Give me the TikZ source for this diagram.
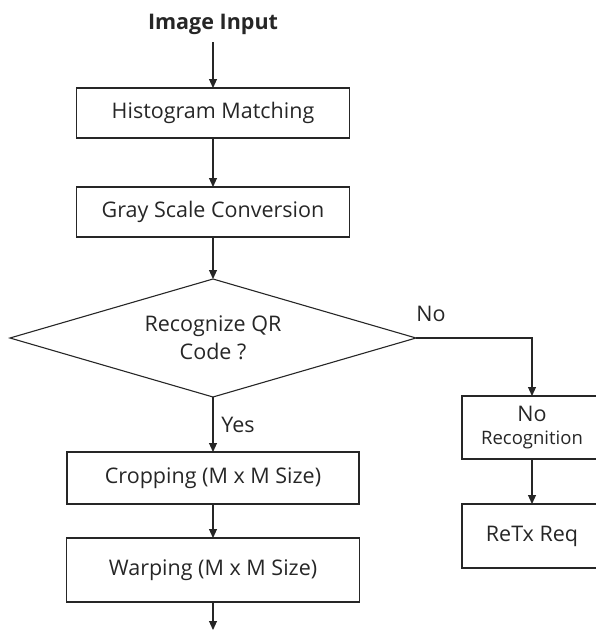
\documentclass[tikz,border=0pt]{standalone}
\usepackage{fontspec}
\setmainfont{Open Sans}
\usetikzlibrary{arrows.meta, positioning, shapes.geometric}
\definecolor{ink}{HTML}{262626}

\begin{document}
\begin{tikzpicture}[->,>={Triangle[length=9pt,width=8pt]},x=1pt,y=-1pt,line width=1.1pt,draw=ink,text=ink,
  every node/.style={font=\fontsize{21.5}{25}\selectfont, outer sep=0pt},
  block/.style={rectangle, draw=ink, inner sep=0pt, minimum height=50pt, minimum width=273pt},
  decision/.style={diamond, aspect=3.44, draw=ink, inner sep=0pt, minimum width=406pt, minimum height=118pt,
    align=center, font=\fontsize{21.5}{28}\selectfont},
  title/.style={font=\fontsize{21.5}{25}\selectfont\bfseries}]
  \useasboundingbox (0,0) rectangle (596,632);
  \node[block] (hist) at (213,113) {Histogram Matching};
  \node[title, above=50pt of hist] (input) {Image Input};
  \node[block, below=49pt of hist] (gray) {Gray Scale Conversion};
  \node[decision, below=42pt of gray] (dec) {Recognize QR\\Code ?};
  \node[block, minimum width=292pt, minimum height=52pt, below=55pt of dec] (crop) {Cropping (M x M Size)};
  \node[block, minimum width=293pt, minimum height=64pt, below=34pt of crop] (warp) {Warping (M x M Size)};
  \coordinate[below=28pt of warp] (out);
  \node[block, minimum width=140pt, minimum height=63pt, align=center] (norec) at (532,427.5)
    {No\\[-2pt]{\fontsize{18.5}{22}\selectfont Recognition}};
  \node[block, minimum width=140pt, minimum height=64pt, below=45pt of norec] (retx) {ReTx Req};
  \draw[shorten <=4pt] (input) -- (hist);
  \draw (hist) -- (gray);
  \draw (gray) -- (dec);
  \draw (dec) -- node[right=5pt] {Yes} (crop);
  \draw (crop) -- (warp);
  \draw (warp) -- (out);
  \draw (dec.east) -| node[pos=0.065, above=13pt] {No} (norec.north);
  \draw (norec) -- (retx);
\end{tikzpicture}
\end{document}
